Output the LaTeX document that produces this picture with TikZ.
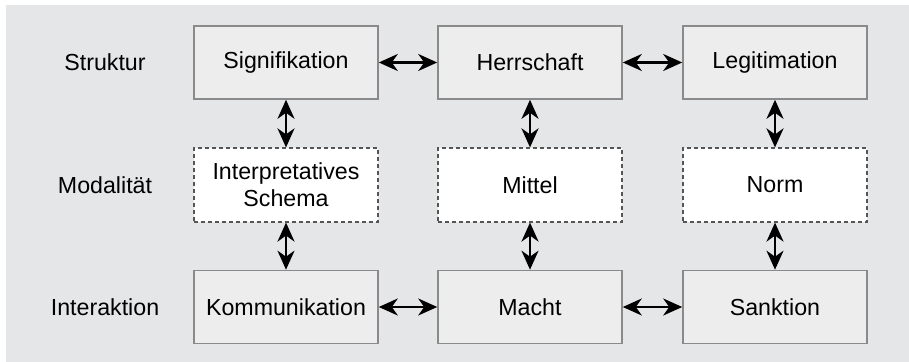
\documentclass[tikz,border=0pt]{standalone}
\usepackage{fontspec}
\setmainfont{Liberation Sans}
\usepackage{tikz}
\usetikzlibrary{arrows.meta}
\usetikzlibrary{positioning}
\definecolor{fond}{HTML}{E5E6E8}
\definecolor{boite}{HTML}{EDEDED}
\definecolor{bord}{HTML}{8A8A8A}
\definecolor{tiret}{HTML}{555555}

\begin{document}
\begin{tikzpicture}[x=0.5pt,y=-0.5pt]
	\tikzstyle{lien}=[<->,>={Stealth[length=9.5pt,width=8.5pt,inset=3pt]},line width=1.2pt,black]
	\tikzset{niveau/.style={draw=bord,line width=0.8pt,fill=boite,minimum width=92pt,minimum height=36.5pt,inner sep=0pt,font=\fontsize{11.6}{13.5}\selectfont},
		modal/.style={draw=tiret,line width=0.6pt,dash pattern=on 2pt off 1.5pt,fill=white,minimum width=92pt,minimum height=37pt,inner sep=0pt,align=center,font=\fontsize{11.6}{13.5}\selectfont},
		titre/.style={font=\fontsize{11.6}{13.5}\selectfont}}
	\useasboundingbox (0,0) rectangle (909,362);
	\fill[fond] (6,5) rectangle (909,362);
	\node[titre] (l1) at (105,62.5) {Struktur};
	\node[titre] (l2) at (105,185) {Modalität};
	\node[titre] (l3) at (105,307) {Interaktion};
	\node[niveau] (a1) at (286,62.5) {Signifikation};
	\node[niveau] (a2) at (530,62.5) {Herrschaft};
	\node[niveau] (a3) at (775,62.5) {Legitimation};
	\node[modal] (b1) at (286,185) {Interpretatives\\Schema};
	\node[modal] (b2) at (530,185) {Mittel};
	\node[modal] (b3) at (775,185) {Norm};
	\node[niveau] (c1) at (286,307) {Kommunikation};
	\node[niveau] (c2) at (530,307) {Macht};
	\node[niveau] (c3) at (775,307) {Sanktion};
	\draw[lien] (a1) -- (a2);
	\draw[lien] (a2) -- (a3);
	\draw[lien] (c1) -- (c2);
	\draw[lien] (c2) -- (c3);
	\draw[lien] (a1) -- (b1);
	\draw[lien] (a2) -- (b2);
	\draw[lien] (a3) -- (b3);
	\draw[lien] (b1) -- (c1);
	\draw[lien] (b2) -- (c2);
	\draw[lien] (b3) -- (c3);
\end{tikzpicture}
\end{document}
